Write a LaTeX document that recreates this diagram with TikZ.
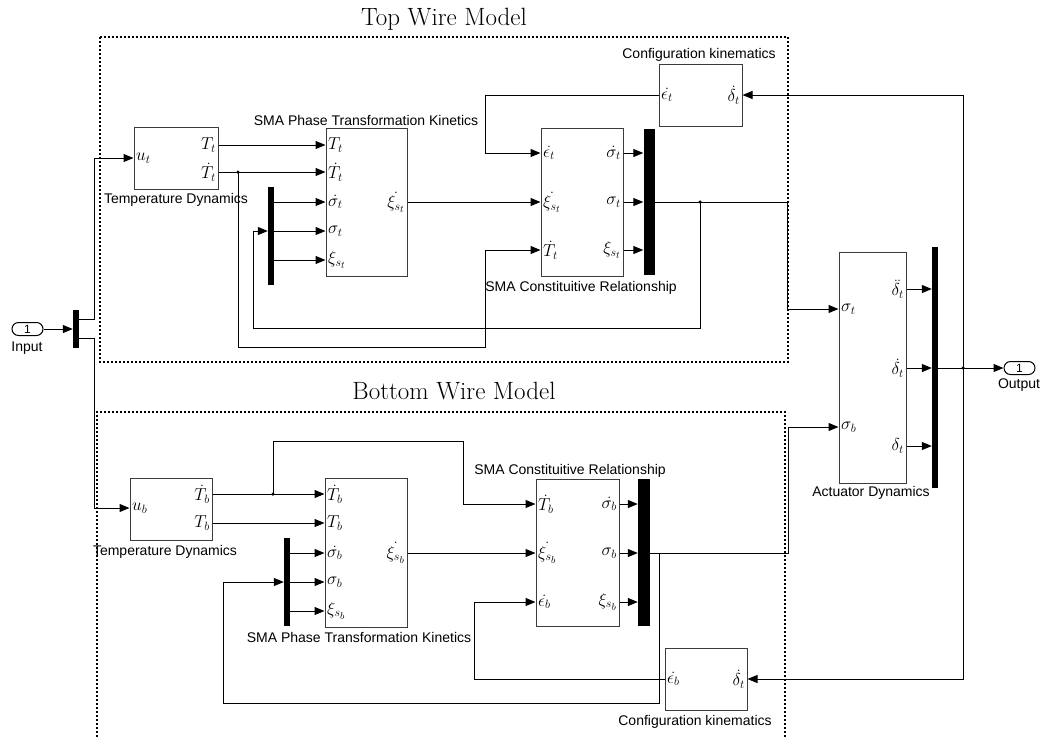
\documentclass[tikz,border=0pt]{standalone}
\usepackage{fontspec}
\setsansfont{Liberation Sans}
\usepackage{tikz}
\usetikzlibrary{arrows.meta,calc}
\definecolor{blkline}{RGB}{60,60,60}
\tikzset{
  wire/.style ={draw=black, line width=1pt, -{Triangle[length=10pt,width=8pt]}},
  blk/.style  ={draw=blkline, line width=1pt, inner sep=0pt},
  bar/.style  ={fill=black, draw=none, inner sep=0pt},
  frm/.style  ={draw=black, line width=2pt, dash pattern=on 2pt off 2pt},
  pl/.style   ={font=\fontsize{17.28}{20}\selectfont, inner sep=1pt},
  lab/.style  ={font=\sffamily\fontsize{14}{16}\selectfont, inner sep=0pt},
  ttl/.style  ={font=\fontsize{25}{28}\selectfont, inner sep=0pt},
  jdot/.style ={circle, fill=black, inner sep=0pt, minimum size=3.5pt},
  port/.style ={draw=black, line width=1pt, rounded corners=6.5pt, minimum width=31pt,
                minimum height=13pt, inner sep=0pt, font=\sffamily\fontsize{12}{12}\selectfont},
}

\begin{document}
\begin{tikzpicture}[x=1pt,y=-1pt]
  \useasboundingbox (0,0) rectangle (1041,737);
  % subsystem frames
  \draw[frm] (100,37) rectangle (788,362);
  \node[ttl] (ttop) at (444,19) {Top Wire Model};
  \draw[frm] (97,737) -- (97,412) -- (785,412) -- (785,737);
  \node[ttl] (tbot) at (454,391) {Bottom Wire Model};

  % input and output ports
  \node[port] (in) at (27.5,329) {1};
  \node[lab] (inl) at (27,348) {Input};
  \node[bar,minimum width=6,minimum height=38] (dmx) at (76,329) {};
  \coordinate (dmx1) at (79,319);
  \coordinate (dmx2) at (79,338);
  \node[port] (out) at (1019.5,368) {1};
  \node[lab] (outl) at (1019,385) {Output};

  % top wire blocks
  \node[blk,minimum width=84,minimum height=62] (tdt) at (176,158) {};
  \node[lab] (tdtl) at (176,200) {Temperature Dynamics};
  \node[pl,anchor=west] (tdt-u) at (135,158) {$u_t$};
  \node[pl,anchor=east] (tdt-T) at (217,145) {$T_t$};
  \node[pl,anchor=east] (tdt-Td) at (217,172) {$\dot{T}_t$};

  \node[blk,minimum width=81,minimum height=148] (ptkt) at (366.5,202) {};
  \node[lab] (ptktl) at (366,120) {SMA Phase Transformation Kinetics};
  \node[pl,anchor=west] (ptkt-T) at (327,145) {$T_t$};
  \node[pl,anchor=west] (ptkt-Td) at (327,172) {$\dot{T}_t$};
  \node[pl,anchor=west] (ptkt-sd) at (327,202) {$\dot{\sigma_t}$};
  \node[pl,anchor=west] (ptkt-s) at (327,231) {$\sigma_t$};
  \node[pl,anchor=west] (ptkt-x) at (327,260) {$\xi_{s_t}$};
  \node[pl,anchor=east] (ptkt-xd) at (406,202) {$\dot{\xi_{s_t}}$};
  \node[bar,minimum width=6,minimum height=98] (bpt) at (271,236) {};

  \node[blk,minimum width=82,minimum height=148] (crt) at (582,202) {};
  \node[lab] (crtl) at (581,288) {SMA Constituitive Relationship};
  \node[pl,anchor=west] (crt-e) at (542,153) {$\dot{\epsilon_t}$};
  \node[pl,anchor=west] (crt-xd) at (542,202) {$\dot{\xi_{s_t}}$};
  \node[pl,anchor=west] (crt-Td) at (542,250) {$\dot{T}_t$};
  \node[pl,anchor=east] (crt-osd) at (622,153) {$\dot{\sigma_t}$};
  \node[pl,anchor=east] (crt-os) at (622,202) {$\sigma_t$};
  \node[pl,anchor=east] (crt-ox) at (622,250) {$\xi_{s_t}$};
  \node[bar,minimum width=11,minimum height=146] (bct) at (649,202) {};

  \node[blk,minimum width=83,minimum height=62] (ckt) at (700.5,95) {};
  \node[lab] (cktl) at (699,55) {Configuration kinematics};
  \node[pl,anchor=west] (ckt-e) at (660,95) {$\dot{\epsilon_t}$};
  \node[pl,anchor=east] (ckt-d) at (741,95) {$\dot{\delta_t}$};

  % actuator
  \node[blk,minimum width=67,minimum height=231] (act) at (872.5,367.5) {};
  \node[lab] (actl) at (871,493) {Actuator Dynamics};
  \node[pl,anchor=west] (act-st) at (840,309) {$\sigma_t$};
  \node[pl,anchor=west] (act-sb) at (840,427) {$\sigma_b$};
  \node[pl,anchor=east] (act-odd) at (905,289) {$\ddot{\delta_t}$};
  \node[pl,anchor=east] (act-od) at (905,368) {$\dot{\delta_t}$};
  \node[pl,anchor=east] (act-o) at (905,446) {$\delta_t$};
  \node[bar,minimum width=6,minimum height=241] (bact) at (935,367.5) {};

  % bottom wire blocks
  \node[blk,minimum width=82,minimum height=62] (tdb) at (171,509) {};
  \node[lab] (tdbl) at (165,552) {Temperature Dynamics};
  \node[pl,anchor=west] (tdb-u) at (131,508) {$u_b$};
  \node[pl,anchor=east] (tdb-Td) at (211,494) {$\dot{T}_b$};
  \node[pl,anchor=east] (tdb-T) at (211,523) {$T_b$};

  \node[blk,minimum width=82,minimum height=149] (ptkb) at (366,552.5) {};
  \node[lab] (ptkbl) at (359,637) {SMA Phase Transformation Kinetics};
  \node[pl,anchor=west] (ptkb-Td) at (326,494) {$\dot{T}_b$};
  \node[pl,anchor=west] (ptkb-T) at (326,523) {$T_b$};
  \node[pl,anchor=west] (ptkb-sd) at (326,553) {$\dot{\sigma_b}$};
  \node[pl,anchor=west] (ptkb-s) at (326,582) {$\sigma_b$};
  \node[pl,anchor=west] (ptkb-x) at (326,611) {$\xi_{s_b}$};
  \node[pl,anchor=east] (ptkb-xd) at (406,553) {$\dot{\xi_{s_b}}$};
  \node[bar,minimum width=6,minimum height=88] (bpb) at (287,582) {};

  \node[blk,minimum width=83,minimum height=147] (crb) at (577.5,552.5) {};
  \node[lab] (crbl) at (570,471) {SMA Constituitive Relationship};
  \node[pl,anchor=west] (crb-Td) at (537,504) {$\dot{T}_b$};
  \node[pl,anchor=west] (crb-xd) at (537,553) {$\dot{\xi_{s_b}}$};
  \node[pl,anchor=west] (crb-e) at (537,602) {$\dot{\epsilon_b}$};
  \node[pl,anchor=east] (crb-osd) at (618,504) {$\dot{\sigma_b}$};
  \node[pl,anchor=east] (crb-os) at (618,553) {$\sigma_b$};
  \node[pl,anchor=east] (crb-ox) at (618,602) {$\xi_{s_b}$};
  \node[bar,minimum width=12,minimum height=147] (bcb) at (644,552.5) {};

  \node[blk,minimum width=82,minimum height=62] (ckb) at (706,679) {};
  \node[lab] (ckbl) at (695,722) {Configuration kinematics};
  \node[pl,anchor=west] (ckb-e) at (666,679) {$\dot{\epsilon_b}$};
  \node[pl,anchor=east] (ckb-d) at (746,679) {$\dot{\delta_t}$};

  % junctions
  \node[jdot] (jTt) at (238,172) {};
  \node[jdot] (jst) at (700,202) {};
  \node[jdot] (jd) at (963,368) {};
  \node[jdot] (jTb) at (273,494) {};
  \coordinate (jsb) at (659,553);

  % input side
  \draw[wire] (in) -- (dmx);
  \draw[wire] (dmx1) -- ++(15,0) |- (tdt-u -| tdt.west);
  \draw[wire] (dmx2) -- ++(15,0) |- (tdb-u -| tdb.west);

  % top wire connections
  \draw[wire] (tdt-T -| tdt.east) -- (ptkt-T -| ptkt.west);
  \draw[wire] (tdt-Td -| tdt.east) -- (ptkt-Td -| ptkt.west);
  \draw[wire] (jTt.center) |- (485,347) |- (crt-Td -| crt.west);
  \draw[wire] (ptkt-sd -| bpt.east) -- (ptkt-sd -| ptkt.west);
  \draw[wire] (ptkt-s -| bpt.east) -- (ptkt-s -| ptkt.west);
  \draw[wire] (ptkt-x -| bpt.east) -- (ptkt-x -| ptkt.west);
  \draw[wire] (ptkt-xd -| ptkt.east) -- (crt-xd -| crt.west);
  \draw[wire] (ckt.west) -- (485,95) |- (crt-e -| crt.west);
  \draw[wire] (crt-osd -| crt.east) -- (crt-osd -| bct.west);
  \draw[wire] (crt-os -| crt.east) -- (crt-os -| bct.west);
  \draw[wire] (crt-ox -| crt.east) -- (crt-ox -| bct.west);
  \draw[wire] (crt-os -| bct.east) -| (787,309) -- (act-st -| act.west);
  \draw[wire] (jst.center) |- (253,328) |- (ptkt-s -| bpt.west);

  % actuator and feedback of the stroke rate
  \draw[wire] (act-odd -| act.east) -- (act-odd -| bact.west);
  \draw[wire] (act-od -| act.east) -- (act-od -| bact.west);
  \draw[wire] (act-o -| act.east) -- (act-o -| bact.west);
  \draw[wire] (act-od -| bact.east) -- (out);
  \draw[wire] (jd.center) |- (ckt.east);
  \draw[wire] (jd.center) |- (ckb.east);

  % bottom wire connections
  \draw[wire] (tdb-Td -| tdb.east) -- (ptkb-Td -| ptkb.west);
  \draw[wire] (tdb-T -| tdb.east) -- (ptkb-T -| ptkb.west);
  \draw[wire] (jTb.center) |- (463,441) |- (crb-Td -| crb.west);
  \draw[wire] (ptkb-sd -| bpb.east) -- (ptkb-sd -| ptkb.west);
  \draw[wire] (ptkb-s -| bpb.east) -- (ptkb-s -| ptkb.west);
  \draw[wire] (ptkb-x -| bpb.east) -- (ptkb-x -| ptkb.west);
  \draw[wire] (ptkb-xd -| ptkb.east) -- (crb-xd -| crb.west);
  \draw[wire] (crb-osd -| crb.east) -- (crb-osd -| bcb.west);
  \draw[wire] (crb-os -| crb.east) -- (crb-os -| bcb.west);
  \draw[wire] (crb-ox -| crb.east) -- (crb-ox -| bcb.west);
  \draw[wire] (crb-os -| bcb.east) -| (788,427) -- (act-sb -| act.west);
  \draw[wire] (jsb) |- (223,703) |- (ptkb-s -| bpb.west);
  \draw[wire] (ckb.west) -- (474,679) |- (crb-e -| crb.west);
\end{tikzpicture}
\end{document}
